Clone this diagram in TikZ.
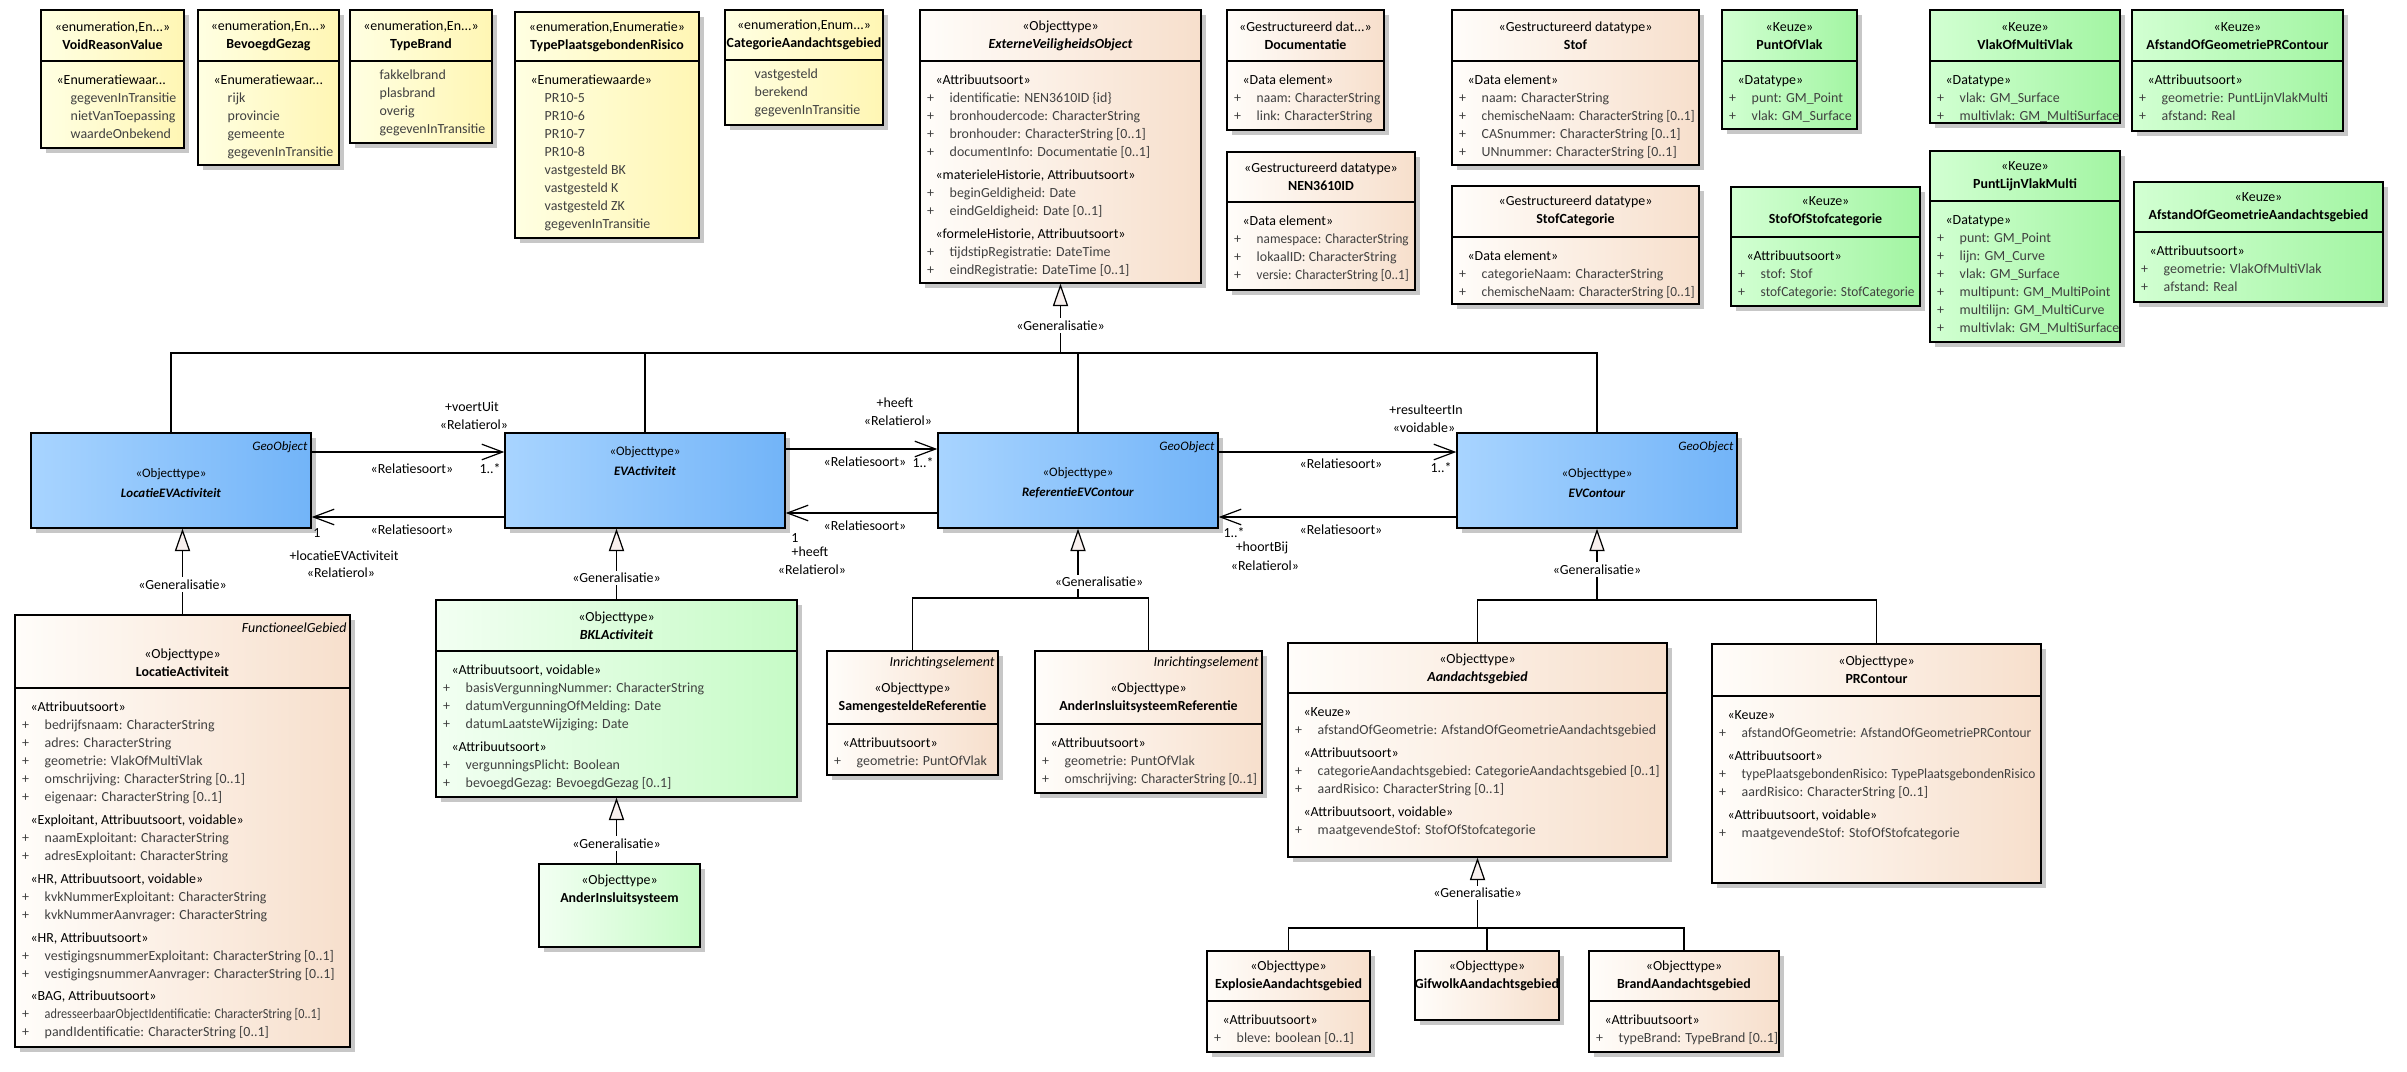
\documentclass[tikz,border=0pt]{standalone}
\usepackage{fontspec}
\setmainfont{Carlito}
\usepackage{graphicx}
\usepackage{tikz}
\usetikzlibrary{arrows.meta,positioning,fit,shadows,calc}

\definecolor{enumleft}{HTML}{FFFFE2}
\definecolor{enumright}{HTML}{FFF6B4}
\definecolor{objleft}{HTML}{FFFDFA}
\definecolor{objright}{HTML}{F7DFCC}
\definecolor{keuzeleft}{HTML}{D2FFD2}
\definecolor{keuzeright}{HTML}{A2F5A2}
\definecolor{bklleft}{HTML}{F2FFF2}
\definecolor{bklright}{HTML}{C6FBC6}
\definecolor{geoleft}{HTML}{A8D4FF}
\definecolor{georight}{HTML}{72B4F8}
\definecolor{attrgray}{HTML}{404040}
\definecolor{genfill}{HTML}{F8F0EE}

\newcommand{\grp}[1]{\multicolumn{2}{@{\hspace{4mm}}l@{}}{#1}}
\newcommand{\attr}[1]{\textcolor{attrgray}{+} & \textcolor{attrgray}{#1}}
\newcommand{\lit}[1]{\phantom{+} & \textcolor{attrgray}{#1}}
\newcommand{\sq}[2]{\scalebox{#1}[1]{#2}}
\newenvironment{rows}{\begin{tabular}{@{\hspace{1.9mm}}c@{\hspace{3.9mm}}l@{}}}{\end{tabular}}

\begin{document}
\begin{tikzpicture}[x=0.25mm,y=-0.25mm,
  every node/.style={font=\fontsize{9.9}{12.8}\selectfont,inner sep=0pt},
  box/.style={draw,line width=0.35mm,inner sep=0pt,
    drop shadow={shadow xshift=1.2mm,shadow yshift=-1.2mm,fill=black!22,opacity=1}},
  enumbox/.style={box,left color=enumleft,right color=enumright},
  objbox/.style={box,left color=objleft,right color=objright},
  keuzebox/.style={box,left color=keuzeleft,right color=keuzeright},
  bklbox/.style={box,left color=bklleft,right color=bklright},
  geobox/.style={box,left color=geoleft,right color=georight},
  divline/.style={line width=0.35mm},
  head/.style={align=center},
  geohead/.style={align=center,font=\fontsize{9.2}{14}\selectfont},
  body/.style={anchor=north west,inner xsep=0pt,inner ysep=2.7mm},
  tag/.style={anchor=east,xshift=-1mm,font=\fontsize{9.9}{12.8}\selectfont\itshape},
  geotag/.style={anchor=east,xshift=-1mm,font=\fontsize{9.2}{11}\selectfont\itshape},
  tree/.style={line width=0.3mm},
  gen/.style={line width=0.3mm,-{Triangle[length=5.6mm,width=3.8mm,fill=genfill]}},
  genlbl/.style={fill=white,inner sep=0.6mm},
  assoc/.style={line width=0.3mm,-{Straight Barb[length=5.2mm,width=3.9mm,line width=0.3mm]}}
]
  \fill[white] (0,0) rectangle (2407,1071);
  \useasboundingbox (0,0) rectangle (2407,1071);

  % Enumeraties
  \node[enumbox,fit={(41,10) (184,148)}] (voidreason) {};
  \draw[divline] (voidreason.west |- 0,61) -- (voidreason.east |- 0,61);
  \node[head] (voidreason-h) at (voidreason.north |- 0,36) {«enumeration,En...»\\\textbf{VoidReasonValue}};
  \node[body] (voidreason-b) at (voidreason.west |- 0,61) {\begin{rows}
    \grp{«Enumeratiewaar...}\\ \lit{gegevenInTransitie}\\ \lit{nietVanToepassing}\\ \lit{waardeOnbekend}
  \end{rows}};

  \node[enumbox,fit={(198,10) (339,165)}] (bevoegd) {};
  \draw[divline] (bevoegd.west |- 0,61) -- (bevoegd.east |- 0,61);
  \node[head] (bevoegd-h) at (bevoegd.north |- 0,36) {«enumeration,En...»\\\textbf{BevoegdGezag}};
  \node[body] (bevoegd-b) at (bevoegd.west |- 0,61) {\begin{rows}
    \grp{«Enumeratiewaar...}\\ \lit{rijk}\\ \lit{provincie}\\ \lit{gemeente}\\ \lit{gegevenInTransitie}
  \end{rows}};

  \node[enumbox,fit={(350,10) (492,143)}] (typebrand) {};
  \draw[divline] (typebrand.west |- 0,61) -- (typebrand.east |- 0,61);
  \node[head] (typebrand-h) at (typebrand.north |- 0,36) {«enumeration,En...»\\\textbf{TypeBrand}};
  \node[body,inner ysep=1.4mm] (typebrand-b) at (typebrand.west |- 0,61) {\begin{rows}
    \lit{fakkelbrand}\\ \lit{plasbrand}\\ \lit{overig}\\ \lit{gegevenInTransitie}
  \end{rows}};

  \node[enumbox,fit={(515,12) (699,238)}] (typepr) {};
  \draw[divline] (typepr.west |- 0,61) -- (typepr.east |- 0,61);
  \node[head] (typepr-h) at (typepr.north |- 0,37) {«enumeration,Enumeratie»\\\textbf{TypePlaatsgebondenRisico}};
  \node[body] (typepr-b) at (typepr.west |- 0,61) {\begin{rows}
    \grp{«Enumeratiewaarde»}\\ \lit{PR10-5}\\ \lit{PR10-6}\\ \lit{PR10-7}\\ \lit{PR10-8}\\
    \lit{vastgesteld BK}\\ \lit{vastgesteld K}\\ \lit{vastgesteld ZK}\\ \lit{gegevenInTransitie}
  \end{rows}};

  \node[enumbox,fit={(725,10) (883,125)}] (catgebied) {};
  \draw[divline] (catgebied.west |- 0,60) -- (catgebied.east |- 0,60);
  \node[head] (catgebied-h) at (catgebied.north |- 0,35) {«enumeration,Enum...»\\\textbf{CategorieAandachtsgebied}};
  \node[body,inner ysep=1.4mm] (catgebied-b) at (catgebied.west |- 0,60) {\begin{rows}
    \lit{vastgesteld}\\ \lit{berekend}\\ \lit{gegevenInTransitie}
  \end{rows}};

  % Objecttype en datatypes
  \node[objbox,fit={(920,10) (1201,283)}] (evo) {};
  \draw[divline] (evo.west |- 0,61) -- (evo.east |- 0,61);
  \node[head] (evo-h) at (evo.north |- 0,36) {«Objecttype»\\\textbf{\textit{ExterneVeiligheidsObject}}};
  \node[body] (evo-b) at (evo.west |- 0,61) {\begin{rows}
    \grp{«Attribuutsoort»}\\
    \attr{identificatie: NEN3610ID \{id\}}\\
    \attr{bronhoudercode: CharacterString}\\
    \attr{bronhouder: CharacterString [0..1]}\\
    \attr{documentInfo: Documentatie [0..1]}\\[1.2mm]
    \grp{«materieleHistorie, Attribuutsoort»}\\
    \attr{beginGeldigheid: Date}\\
    \attr{eindGeldigheid: Date [0..1]}\\[1.2mm]
    \grp{«formeleHistorie, Attribuutsoort»}\\
    \attr{tijdstipRegistratie: DateTime}\\
    \attr{eindRegistratie: DateTime [0..1]}
  \end{rows}};

  \node[objbox,fit={(1227,10) (1384,130)}] (documentatie) {};
  \draw[divline] (documentatie.west |- 0,61) -- (documentatie.east |- 0,61);
  \node[head] (documentatie-h) at (documentatie.north |- 0,36) {«Gestructureerd dat...»\\\textbf{Documentatie}};
  \node[body] (documentatie-b) at (documentatie.west |- 0,61) {\begin{rows}
    \grp{«Data element»}\\ \attr{\sq{0.97}{naam: CharacterString}}\\ \attr{link: CharacterString}
  \end{rows}};

  \node[objbox,fit={(1227,152) (1415,290)}] (nenid) {};
  \draw[divline] (nenid.west |- 0,202) -- (nenid.east |- 0,202);
  \node[head] (nenid-h) at (nenid.north |- 0,177) {«Gestructureerd datatype»\\\textbf{NEN3610ID}};
  \node[body] (nenid-b) at (nenid.west |- 0,202) {\begin{rows}
    \grp{«Data element»}\\ \attr{\sq{0.95}{namespace: CharacterString}}\\ \attr{lokaalID: CharacterString}\\
    \attr{\sq{0.94}{versie: CharacterString [0..1]}}
  \end{rows}};

  \node[objbox,fit={(1452,10) (1699,165)}] (stof) {};
  \draw[divline] (stof.west |- 0,61) -- (stof.east |- 0,61);
  \node[head] (stof-h) at (stof.north |- 0,36) {«Gestructureerd datatype»\\\textbf{Stof}};
  \node[body] (stof-b) at (stof.west |- 0,61) {\begin{rows}
    \grp{«Data element»}\\ \attr{naam: CharacterString}\\ \attr{\sq{0.96}{chemischeNaam: CharacterString [0..1]}}\\
    \attr{CASnummer: CharacterString [0..1]}\\ \attr{UNnummer: CharacterString [0..1]}
  \end{rows}};

  \node[objbox,fit={(1452,186) (1699,304)}] (stofcat) {};
  \draw[divline] (stofcat.west |- 0,237) -- (stofcat.east |- 0,237);
  \node[head] (stofcat-h) at (stofcat.north |- 0,211) {«Gestructureerd datatype»\\\textbf{StofCategorie}};
  \node[body] (stofcat-b) at (stofcat.west |- 0,237) {\begin{rows}
    \grp{«Data element»}\\ \attr{categorieNaam: CharacterString}\\ \attr{\sq{0.96}{chemischeNaam: CharacterString [0..1]}}
  \end{rows}};

  % Keuzes
  \node[keuzebox,fit={(1722,10) (1857,129)}] (puntofvlak) {};
  \draw[divline] (puntofvlak.west |- 0,61) -- (puntofvlak.east |- 0,61);
  \node[head] (puntofvlak-h) at (puntofvlak.north |- 0,36) {«Keuze»\\\textbf{PuntOfVlak}};
  \node[body] (puntofvlak-b) at (puntofvlak.west |- 0,61) {\begin{rows}
    \grp{«Datatype»}\\ \attr{punt: GM\_Point}\\ \attr{vlak: GM\_Surface}
  \end{rows}};

  \node[keuzebox,fit={(1930,10) (2120,123)}] (vlakofmulti) {};
  \draw[divline] (vlakofmulti.west |- 0,61) -- (vlakofmulti.east |- 0,61);
  \node[head] (vlakofmulti-h) at (vlakofmulti.north |- 0,36) {«Keuze»\\\textbf{VlakOfMultiVlak}};
  \node[body] (vlakofmulti-b) at (vlakofmulti.west |- 0,61) {\begin{rows}
    \grp{«Datatype»}\\ \attr{vlak: GM\_Surface}\\ \attr{multivlak: GM\_MultiSurface}
  \end{rows}};

  \node[keuzebox,fit={(2132,10) (2343,131)}] (afstandpr) {};
  \draw[divline] (afstandpr.west |- 0,61) -- (afstandpr.east |- 0,61);
  \node[head] (afstandpr-h) at (afstandpr.north |- 0,36) {«Keuze»\\\textbf{AfstandOfGeometriePRContour}};
  \node[body] (afstandpr-b) at (afstandpr.west |- 0,61) {\begin{rows}
    \grp{«Attribuutsoort»}\\ \attr{geometrie: PuntLijnVlakMulti}\\ \attr{afstand: Real}
  \end{rows}};

  \node[keuzebox,fit={(1731,187) (1920,306)}] (stofofcat) {};
  \draw[divline] (stofofcat.west |- 0,237) -- (stofofcat.east |- 0,237);
  \node[head] (stofofcat-h) at (stofofcat.north |- 0,211) {«Keuze»\\\textbf{StofOfStofcategorie}};
  \node[body] (stofofcat-b) at (stofofcat.west |- 0,237) {\begin{rows}
    \grp{«Attribuutsoort»}\\ \attr{stof: Stof}\\ \attr{\sq{0.96}{stofCategorie: StofCategorie}}
  \end{rows}};

  \node[keuzebox,fit={(1930,151) (2120,342)}] (puntlijn) {};
  \draw[divline] (puntlijn.west |- 0,201) -- (puntlijn.east |- 0,201);
  \node[head] (puntlijn-h) at (puntlijn.north |- 0,176) {«Keuze»\\\textbf{PuntLijnVlakMulti}};
  \node[body] (puntlijn-b) at (puntlijn.west |- 0,201) {\begin{rows}
    \grp{«Datatype»}\\ \attr{punt: GM\_Point}\\ \attr{lijn: GM\_Curve}\\ \attr{vlak: GM\_Surface}\\
    \attr{multipunt: GM\_MultiPoint}\\ \attr{multilijn: GM\_MultiCurve}\\ \attr{multivlak: GM\_MultiSurface}
  \end{rows}};

  \node[keuzebox,fit={(2134,182) (2383,302)}] (afstandag) {};
  \draw[divline] (afstandag.west |- 0,232) -- (afstandag.east |- 0,232);
  \node[head] (afstandag-h) at (afstandag.north |- 0,207) {«Keuze»\\\textbf{AfstandOfGeometrieAandachtsgebied}};
  \node[body] (afstandag-b) at (afstandag.west |- 0,232) {\begin{rows}
    \grp{«Attribuutsoort»}\\ \attr{geometrie: VlakOfMultiVlak}\\ \attr{afstand: Real}
  \end{rows}};

  % GeoObjecten
  \node[geobox,fit={(31,433) (311,528)}] (locev) {};
  \node[geotag] (locev-t) at (locev.east |- 0,447) {GeoObject};
  \node[geohead] (locev-h) at (locev.center |- 0,483) {«Objecttype»\\\textbf{\textit{LocatieEVActiviteit}}};

  \node[geobox,fit={(505,433) (785,528)}] (evact) {};
  \node[geohead] (evact-h) at (evact.center |- 0,461) {«Objecttype»\\\textbf{\textit{EVActiviteit}}};

  \node[geobox,fit={(938,433) (1218,528)}] (refev) {};
  \node[geotag] (refev-t) at (refev.east |- 0,447) {GeoObject};
  \node[geohead] (refev-h) at (refev.center |- 0,483) {«Objecttype»\\\textbf{\textit{ReferentieEVContour}}};

  \node[geobox,fit={(1457,433) (1737,528)}] (evcontour) {};
  \node[geotag] (evcontour-t) at (evcontour.east |- 0,447) {GeoObject};
  \node[geohead] (evcontour-h) at (evcontour.center |- 0,483) {«Objecttype»\\\textbf{\textit{EVContour}}};

  % Onderste rij
  \node[objbox,fit={(15,615) (350,1047)}] (locact) {};
  \draw[divline] (locact.west |- 0,688) -- (locact.east |- 0,688);
  \node[tag] (locact-t) at (locact.east |- 0,628) {FunctioneelGebied};
  \node[head] (locact-h) at (locact.north |- 0,663) {«Objecttype»\\\textbf{LocatieActiviteit}};
  \node[body] (locact-b) at (locact.west |- 0,688) {\begin{rows}
    \grp{«Attribuutsoort»}\\
    \attr{bedrijfsnaam: CharacterString}\\
    \attr{adres: CharacterString}\\
    \attr{geometrie: VlakOfMultiVlak}\\
    \attr{omschrijving: CharacterString [0..1]}\\
    \attr{eigenaar: CharacterString [0..1]}\\[1.2mm]
    \grp{«Exploitant, Attribuutsoort, voidable»}\\
    \attr{naamExploitant: CharacterString}\\
    \attr{adresExploitant: CharacterString}\\[1.2mm]
    \grp{«HR, Attribuutsoort, voidable»}\\
    \attr{kvkNummerExploitant: CharacterString}\\
    \attr{kvkNummerAanvrager: CharacterString}\\[1.2mm]
    \grp{«HR, Attribuutsoort»}\\
    \attr{vestigingsnummerExploitant: CharacterString [0..1]}\\
    \attr{vestigingsnummerAanvrager: CharacterString [0..1]}\\[1.2mm]
    \grp{«BAG, Attribuutsoort»}\\
    \attr{\sq{0.88}{adresseerbaarObjectIdentificatie: CharacterString [0..1]}}\\
    \attr{pandIdentificatie: CharacterString [0..1]}
  \end{rows}};

  \node[bklbox,fit={(436,600) (797,797)}] (bkl) {};
  \draw[divline] (bkl.west |- 0,651) -- (bkl.east |- 0,651);
  \node[head] (bkl-h) at (bkl.north |- 0,626) {«Objecttype»\\\textbf{\textit{BKLActiviteit}}};
  \node[body] (bkl-b) at (bkl.west |- 0,651) {\begin{rows}
    \grp{«Attribuutsoort, voidable»}\\
    \attr{basisVergunningNummer: CharacterString}\\
    \attr{datumVergunningOfMelding: Date}\\
    \attr{datumLaatsteWijziging: Date}\\[1.2mm]
    \grp{«Attribuutsoort»}\\
    \attr{vergunningsPlicht: Boolean}\\
    \attr{bevoegdGezag: BevoegdGezag [0..1]}
  \end{rows}};

  \node[bklbox,fit={(539,864) (700,947)}] (anderinsl) {};
  \node[head] (anderinsl-h) at (anderinsl.north |- 0,890) {«Objecttype»\\\textbf{AnderInsluitsysteem}};

  \node[objbox,fit={(827,651) (998,775)}] (samref) {};
  \draw[divline] (samref.west |- 0,724) -- (samref.east |- 0,724);
  \node[tag] (samref-t) at (samref.east |- 0,663) {Inrichtingselement};
  \node[head] (samref-h) at (samref.north |- 0,698) {«Objecttype»\\\textbf{SamengesteldeReferentie}};
  \node[body] (samref-b) at (samref.west |- 0,724) {\begin{rows}
    \grp{«Attribuutsoort»}\\ \attr{geometrie: PuntOfVlak}
  \end{rows}};

  \node[objbox,fit={(1035,651) (1262,793)}] (anderref) {};
  \draw[divline] (anderref.west |- 0,724) -- (anderref.east |- 0,724);
  \node[tag] (anderref-t) at (anderref.east |- 0,663) {Inrichtingselement};
  \node[head] (anderref-h) at (anderref.north |- 0,698) {«Objecttype»\\\textbf{AnderInsluitsysteemReferentie}};
  \node[body] (anderref-b) at (anderref.west |- 0,724) {\begin{rows}
    \grp{«Attribuutsoort»}\\ \attr{geometrie: PuntOfVlak}\\ \attr{\sq{0.96}{omschrijving: CharacterString [0..1]}}
  \end{rows}};

  \node[objbox,fit={(1288,643) (1667,857)}] (aandacht) {};
  \draw[divline] (aandacht.west |- 0,693) -- (aandacht.east |- 0,693);
  \node[head] (aandacht-h) at (aandacht.north |- 0,669) {«Objecttype»\\\textbf{\textit{Aandachtsgebied}}};
  \node[body] (aandacht-b) at (aandacht.west |- 0,693) {\begin{rows}
    \grp{«Keuze»}\\
    \attr{afstandOfGeometrie: AfstandOfGeometrieAandachtsgebied}\\[1.2mm]
    \grp{«Attribuutsoort»}\\
    \attr{categorieAandachtsgebied: CategorieAandachtsgebied [0..1]}\\
    \attr{aardRisico: CharacterString [0..1]}\\[1.2mm]
    \grp{«Attribuutsoort, voidable»}\\
    \attr{maatgevendeStof: StofOfStofcategorie}
  \end{rows}};

  \node[objbox,fit={(1712,644) (2041,883)}] (prcontour) {};
  \draw[divline] (prcontour.west |- 0,696) -- (prcontour.east |- 0,696);
  \node[head] (prcontour-h) at (prcontour.north |- 0,670) {«Objecttype»\\\textbf{PRContour}};
  \node[body] (prcontour-b) at (prcontour.west |- 0,696) {\begin{rows}
    \grp{«Keuze»}\\
    \attr{\sq{0.96}{afstandOfGeometrie: AfstandOfGeometriePRContour}}\\[1.2mm]
    \grp{«Attribuutsoort»}\\
    \attr{\sq{0.96}{typePlaatsgebondenRisico: TypePlaatsgebondenRisico}}\\
    \attr{aardRisico: CharacterString [0..1]}\\[1.2mm]
    \grp{«Attribuutsoort, voidable»}\\
    \attr{maatgevendeStof: StofOfStofcategorie}
  \end{rows}};

  \node[objbox,fit={(1207,951) (1370,1052)}] (explosie) {};
  \draw[divline] (explosie.west |- 0,1001) -- (explosie.east |- 0,1001);
  \node[head] (explosie-h) at (explosie.north |- 0,976) {«Objecttype»\\\textbf{ExplosieAandachtsgebied}};
  \node[body] (explosie-b) at (explosie.west |- 0,1001) {\begin{rows}
    \grp{«Attribuutsoort»}\\ \attr{bleve: boolean [0..1]}
  \end{rows}};

  \node[objbox,fit={(1415,951) (1559,1020)}] (gifwolk) {};
  \node[head] (gifwolk-h) at (gifwolk.north |- 0,976) {«Objecttype»\\\textbf{GifwolkAandachtsgebied}};

  \node[objbox,fit={(1589,951) (1779,1052)}] (brand) {};
  \draw[divline] (brand.west |- 0,1001) -- (brand.east |- 0,1001);
  \node[head] (brand-h) at (brand.north |- 0,976) {«Objecttype»\\\textbf{BrandAandachtsgebied}};
  \node[body] (brand-b) at (brand.west |- 0,1001) {\begin{rows}
    \grp{«Attribuutsoort»}\\ \attr{typeBrand: TypeBrand [0..1]}
  \end{rows}};

  % Generalisaties
  \draw[tree] (locev.north) |- (evcontour.north |- 0,353) -- (evcontour.north);
  \draw[tree] (evact.north) -- (evact.north |- 0,353);
  \draw[tree] (refev.north) -- (refev.north |- 0,353);
  \draw[gen] (evo.south |- 0,353) -- node[genlbl,pos=0.4] (gen-evo) {«Generalisatie»} (evo.south);

  \draw[gen] (locact.north) -- node[genlbl,pos=0.35] (gen-locact) {«Generalisatie»} (locact.north |- locev.south);
  \draw[gen] (bkl.north) -- node[genlbl,pos=0.3] (gen-bkl) {«Generalisatie»} (bkl.north |- evact.south);
  \draw[gen] (bkl.south |- anderinsl.north) -- node[genlbl,pos=0.3] (gen-ander) {«Generalisatie»} (bkl.south);

  \draw[tree] (samref.north) |- (anderref.north |- 0,598) -- (anderref.north);
  \draw[gen] (refev.south |- 0,598) -- (refev.south);
  \node[genlbl] (gen-refev) at (1099,582) {«Generalisatie»};

  \draw[tree] (aandacht.north) |- (prcontour.north |- 0,600) -- (prcontour.north);
  \draw[gen] (evcontour.south |- 0,600) -- node[genlbl,pos=0.43] (gen-evc) {«Generalisatie»} (evcontour.south);

  \draw[tree] (explosie.north) |- (brand.north |- 0,928) -- (brand.north);
  \draw[tree] (gifwolk.north) -- (gifwolk.north |- 0,928);
  \draw[gen] (aandacht.south |- 0,928) -- node[genlbl,pos=0.5] (gen-aandacht) {«Generalisatie»} (aandacht.south);

  % Relaties
  \draw[assoc] (locev.east |- 0,452) -- (evact.west |- 0,452);
  \draw[assoc] (evact.west |- 0,517) -- (locev.east |- 0,517);
  \draw[assoc] (evact.east |- 0,449) -- (refev.west |- 0,449);
  \draw[assoc] (refev.west |- 0,513) -- (evact.east |- 0,513);
  \draw[assoc] (refev.east |- 0,452) -- (evcontour.west |- 0,452);
  \draw[assoc] (evcontour.west |- 0,517) -- (refev.east |- 0,517);

  \node (voertuit) at (472,407) {+voertUit};
  \node (rol1) at (474,425) {«Relatierol»};
  \node (soort1) at (412,469) {«Relatiesoort»};
  \node (mult1) at (490,469) {1..*};
  \node (soort2) at (412,530) {«Relatiesoort»};
  \node (mult2) at (317,533) {1};
  \node (locrol) at (344,556) {+locatieEVActiviteit};
  \node (rol2) at (341,573) {«Relatierol»};
  \node (heeft1) at (895,403) {+heeft};
  \node (rol3) at (898,421) {«Relatierol»};
  \node (soort3) at (865,462) {«Relatiesoort»};
  \node (mult3) at (923,463) {1..*};
  \node (soort4) at (865,526) {«Relatiesoort»};
  \node (mult4) at (795,538) {1};
  \node (heeft2) at (810,552) {+heeft};
  \node (rol4) at (812,570) {«Relatierol»};
  \node (resulteert) at (1426,410) {+resulteertIn};
  \node (voidable) at (1424,428) {«voidable»};
  \node (soort5) at (1341,464) {«Relatiesoort»};
  \node (mult5) at (1441,468) {1..*};
  \node (soort6) at (1341,530) {«Relatiesoort»};
  \node (mult6) at (1234,533) {1..*};
  \node (hoortbij) at (1262,548) {+hoortBij};
  \node (rol6) at (1265,566) {«Relatierol»};
\end{tikzpicture}
\end{document}
